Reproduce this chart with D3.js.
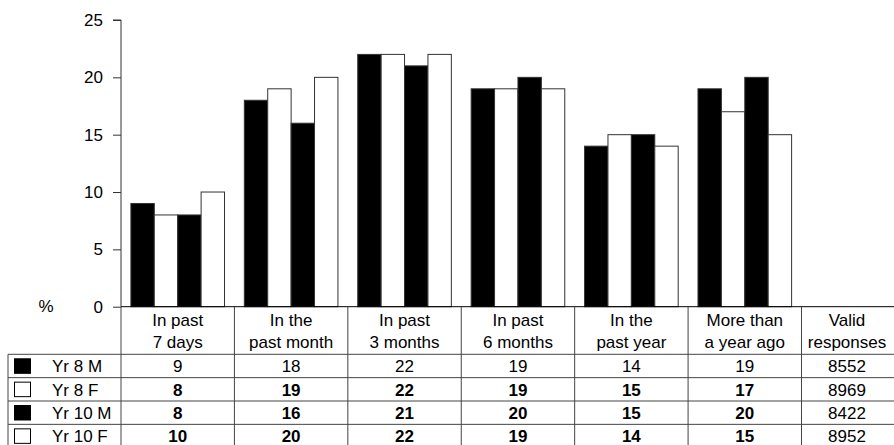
<!DOCTYPE html>
<html>
<head>
<script src="https://d3js.org/d3.v7.min.js"></script>
<style>
  body { margin: 0; background: #fff; }
  svg text { font-family: "Liberation Sans", Arial, sans-serif; font-size: 17px; fill: #000; }
</style>
</head>
<body>
<div class="chart"></div>
<script>
var w = 894, h = 445;
var plotLeft = 121, plotRight = 801.5, plotTop = 20, base = 306.7;

var categories = [["In past", "7 days"], ["In the", "past month"], ["In past", "3 months"],
                  ["In past", "6 months"], ["In the", "past year"], ["More than", "a year ago"]];
var series = ["Yr 8 M", "Yr 8 F", "Yr 10 M", "Yr 10 F"];
var fills = ["#000", "#fff", "#000", "#fff"];
var values = [
  [9, 18, 22, 19, 14, 19],
  [8, 19, 22, 19, 15, 17],
  [8, 16, 21, 20, 15, 20],
  [10, 20, 22, 19, 14, 15]
];
var valid = [8552, 8969, 8422, 8952];
var yTicks = [0, 5, 10, 15, 20, 25];

var svg = d3.select(".chart").append("svg")
  .attr("width", w)
  .attr("height", h);

var x0 = d3.scaleBand().domain(d3.range(categories.length)).range([plotLeft, plotRight]);
var x1 = d3.scaleBand().domain(d3.range(series.length)).range([0, x0.bandwidth()]).paddingOuter(0.423);
var y = d3.scaleLinear().domain([0, 25]).range([base, plotTop]);

// y axis
var yAxis = svg.append("g")
  .attr("transform", "translate(" + plotLeft + ",0)")
  .call(d3.axisLeft(y).tickValues(yTicks).tickSize(8).tickPadding(10));
yAxis.select(".domain").attr("stroke", "#333").attr("d", "M-8," + plotTop + "H0V" + base);
yAxis.selectAll(".tick line").attr("stroke", "#333");
yAxis.selectAll(".tick text").style("font-size", "17px").attr("font-family", null);

svg.append("text").attr("x", 46).attr("y", base + 5).attr("text-anchor", "middle").text("%");

// bars
for (var s = 0; s < series.length; s++) {
  svg.append("g").selectAll("rect")
    .data(values[s])
    .enter()
    .append("rect")
    .attr("x", function(d, i) { return x0(i) + x1(s); })
    .attr("y", function(d) { return y(d); })
    .attr("width", x1.bandwidth())
    .attr("height", function(d) { return base - y(d); })
    .attr("fill", fills[s])
    .attr("stroke", "#333")
    .attr("stroke-width", 1);
}

// table
var rowTop = 354.3, rowH = 23.35;
var lastCol = plotRight + 91;
var grid = svg.append("g").attr("stroke", "#444").attr("stroke-width", 1);

grid.append("line").attr("x1", plotLeft).attr("x2", w).attr("y1", base).attr("y2", base).attr("stroke", "#000");
for (var r = 0; r <= series.length; r++) {
  grid.append("line").attr("x1", 8).attr("x2", w)
    .attr("y1", rowTop + r * rowH).attr("y2", rowTop + r * rowH);
}
grid.append("line").attr("x1", 8).attr("x2", 8).attr("y1", rowTop).attr("y2", h);
var colEdges = d3.range(categories.length).map(function(i) { return x0(i); }).concat([plotRight]);
colEdges.forEach(function(cx) {
  grid.append("line").attr("x1", cx).attr("x2", cx).attr("y1", base).attr("y2", h);
});

// headers
var headers = categories.concat([["Valid", "responses"]]);
headers.forEach(function(lines, i) {
  var cx = i < categories.length ? x0(i) + x0.bandwidth() / 2 : (plotRight + lastCol) / 2;
  lines.forEach(function(t, j) {
    svg.append("text").attr("x", cx).attr("y", 326 + j * 22.3)
      .attr("text-anchor", "middle").text(t);
  });
});

// rows
series.forEach(function(name, s) {
  var ry = rowTop + s * rowH;
  var by = ry + 18;
  svg.append("rect").attr("x", 14.5).attr("y", ry + 4.5).attr("width", 16).attr("height", 14.5)
    .attr("fill", fills[s]).attr("stroke", "#000").attr("stroke-width", 1);
  svg.append("text").attr("x", 52).attr("y", by).text(name);
  values[s].forEach(function(v, i) {
    svg.append("text").attr("x", x0(i) + x0.bandwidth() / 2).attr("y", by)
      .attr("text-anchor", "middle")
      .attr("font-weight", s > 0 ? "bold" : null)
      .text(v);
  });
  svg.append("text").attr("x", (plotRight + lastCol) / 2).attr("y", by)
    .attr("text-anchor", "middle").text(valid[s]);
});
</script>
</body>
</html>
